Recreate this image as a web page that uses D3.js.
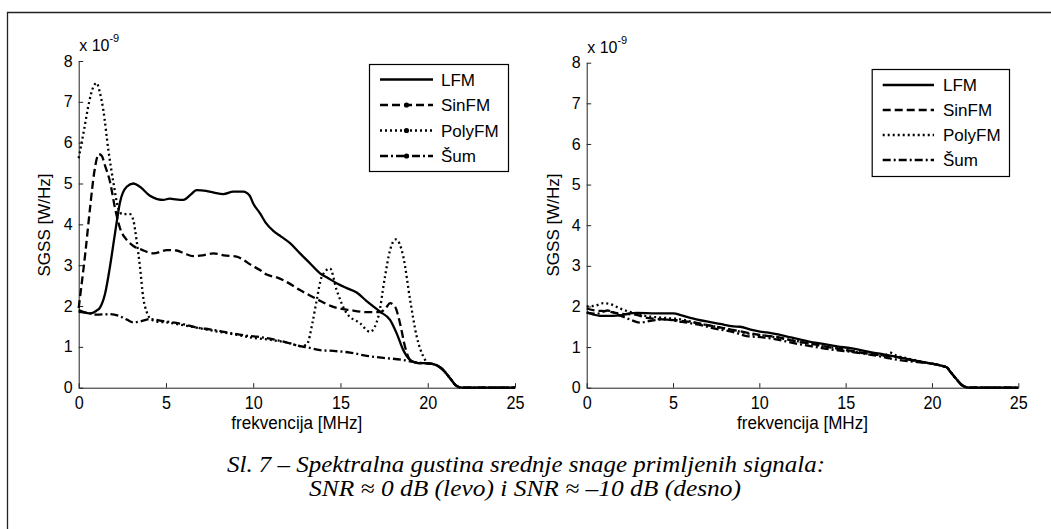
<!DOCTYPE html>
<html>
<head>
<meta charset="utf-8">
<script src="https://cdn.jsdelivr.net/npm/d3@7"></script>
<style>
body { margin: 0; background: #fff; }
svg { display: block; }
svg text { font-family: "Liberation Sans", Arial, sans-serif; }
svg text.caption { font-family: "Liberation Serif", "Times New Roman", Times, serif; font-style: italic; }
</style>
</head>
<body>
<div id="chart"></div>
<script>
// ---- data (values in units of 1e-9 W/Hz, frequency in MHz) ----
var xTicks = [0, 5, 10, 15, 20, 25];
var yTicks = [0, 1, 2, 3, 4, 5, 6, 7, 8];
var seriesNames = ["LFM", "SinFM", "PolyFM", "Šum"];

// left panel, SNR ~ 0 dB
var leftLfmF = [0, 0.3, 0.65, 1.0, 1.22, 1.51, 1.79, 2.08, 2.37, 2.75, 3.13, 3.51, 4.08, 4.5, 4.85, 5.2, 5.42, 6.0, 6.4, 6.76, 7.3, 7.8, 8.29, 8.86, 9.43, 9.8, 10.0, 10.39, 10.7, 11.15, 11.6, 12.11, 12.68, 13.2, 13.83, 14.3, 14.78, 15.3, 15.93, 16.5, 17.27, 17.84, 18.22, 18.6, 18.99, 19.37, 19.8, 20.32, 20.8, 21.28, 21.6, 21.85, 22.2, 25];
var leftLfmP = [1.9, 1.85, 1.82, 1.88, 1.96, 2.3, 2.96, 3.78, 4.55, 4.92, 5.0, 4.92, 4.7, 4.62, 4.6, 4.63, 4.62, 4.6, 4.72, 4.84, 4.82, 4.77, 4.74, 4.8, 4.8, 4.7, 4.51, 4.27, 4.05, 3.84, 3.7, 3.54, 3.29, 3.07, 2.8, 2.68, 2.56, 2.45, 2.33, 2.12, 1.86, 1.66, 1.33, 0.92, 0.68, 0.61, 0.6, 0.58, 0.47, 0.23, 0.06, 0.01, 0, 0];

var leftSinF = [0, 0.1, 0.38, 0.65, 0.9, 1.15, 1.32, 1.5, 1.79, 2.08, 2.37, 2.75, 3.13, 3.6, 4.28, 4.7, 5.04, 5.61, 6.0, 6.57, 7.1, 7.71, 8.3, 9.05, 9.43, 9.82, 10.39, 10.77, 11.35, 11.73, 12.68, 13.64, 14.59, 15.55, 16.5, 17.27, 17.6, 17.84, 18.13, 18.41, 18.7, 18.99, 19.37, 19.8, 20.32, 20.8, 21.28, 21.6, 21.85, 22.2, 25];
var leftSinP = [1.95, 2.3, 3.3, 4.4, 5.3, 5.72, 5.68, 5.45, 5.05, 4.4, 3.9, 3.62, 3.47, 3.38, 3.29, 3.33, 3.37, 3.36, 3.3, 3.22, 3.24, 3.29, 3.24, 3.21, 3.13, 3.02, 2.88, 2.77, 2.7, 2.63, 2.39, 2.17, 1.98, 1.9, 1.85, 1.85, 1.95, 2.07, 1.98, 1.58, 1.0, 0.68, 0.61, 0.6, 0.58, 0.47, 0.23, 0.06, 0.01, 0, 0];

var leftPolyF = [0, 0.3, 0.6, 0.85, 1.03, 1.2, 1.41, 1.7, 1.98, 2.27, 2.5, 2.94, 3.13, 3.32, 3.51, 3.7, 3.9, 4.08, 4.47, 5.0, 6.0, 7.0, 8.0, 9.0, 10.0, 11.0, 12.0, 12.7, 13.06, 13.4, 13.64, 13.93, 14.4, 14.78, 15.36, 16.12, 16.69, 17.17, 17.55, 17.84, 18.18, 18.6, 18.99, 19.37, 19.75, 20.03, 20.32, 20.8, 21.28, 21.6, 21.85, 22.2, 25];
var leftPolyP = [5.62, 6.3, 7.0, 7.38, 7.46, 7.25, 6.8, 5.82, 5.05, 4.39, 4.25, 4.25, 4.1, 3.6, 2.96, 2.2, 1.85, 1.7, 1.62, 1.6, 1.53, 1.45, 1.37, 1.3, 1.22, 1.17, 1.1, 1.02, 1.05, 1.6, 2.15, 2.72, 2.92, 2.39, 1.82, 1.58, 1.37, 1.74, 2.72, 3.37, 3.63, 3.21, 2.15, 1.25, 0.76, 0.6, 0.58, 0.47, 0.23, 0.06, 0.01, 0, 0];

var leftSumF = [0, 0.5, 1.0, 1.79, 2.3, 2.8, 3.13, 3.5, 4.09, 4.85, 5.8, 6.95, 7.5, 8.67, 9.5, 10.2, 10.96, 11.8, 12.68, 13.06, 13.83, 14.6, 15.55, 16.5, 17.46, 18.6, 19.17, 19.5, 19.8, 20.32, 20.8, 21.28, 21.6, 21.85, 22.2, 25];
var leftSumP = [1.86, 1.83, 1.79, 1.8, 1.76, 1.66, 1.6, 1.62, 1.68, 1.63, 1.57, 1.46, 1.43, 1.34, 1.28, 1.25, 1.2, 1.12, 1.02, 0.99, 0.92, 0.9, 0.86, 0.78, 0.73, 0.68, 0.63, 0.61, 0.6, 0.58, 0.47, 0.23, 0.06, 0.01, 0, 0];

// right panel, SNR ~ -10 dB
var rightLfmF = [0, 0.4, 0.77, 1.5, 1.93, 2.5, 2.9, 4.0, 5.02, 5.5, 6.0, 6.95, 7.72, 8.49, 8.88, 9.5, 10.04, 10.43, 11.5, 12.2, 12.94, 13.5, 14.5, 15.45, 16.5, 17.2, 17.96, 18.9, 19.89, 20.47, 20.86, 21.05, 21.44, 21.75, 22.02, 22.3, 25];
var rightLfmP = [1.86, 1.8, 1.77, 1.77, 1.78, 1.83, 1.84, 1.83, 1.83, 1.78, 1.72, 1.63, 1.57, 1.51, 1.5, 1.43, 1.38, 1.36, 1.27, 1.2, 1.13, 1.09, 1.02, 0.96, 0.87, 0.82, 0.76, 0.68, 0.6, 0.55, 0.5, 0.4, 0.2, 0.06, 0.01, 0, 0];

var rightSinF = [0, 0.5, 1.2, 2.0, 2.8, 3.5, 4.5, 5.2, 6.0, 7.0, 8.0, 9.0, 10.0, 11.0, 12.0, 13.0, 14.0, 15.0, 16.0, 17.0, 18.0, 19.0, 19.89, 20.47, 20.86, 21.05, 21.44, 21.75, 22.02, 22.3, 25];
var rightSinP = [1.95, 1.9, 1.88, 1.82, 1.8, 1.72, 1.68, 1.66, 1.62, 1.54, 1.46, 1.38, 1.3, 1.25, 1.15, 1.08, 1.0, 0.93, 0.86, 0.8, 0.75, 0.66, 0.6, 0.55, 0.5, 0.4, 0.2, 0.06, 0.01, 0, 0];

var rightPolyF = [0, 0.5, 0.96, 1.35, 1.93, 2.7, 3.5, 4.5, 5.5, 6.5, 7.5, 8.5, 9.5, 10.5, 11.5, 12.5, 13.5, 14.5, 15.5, 16.5, 17.3, 17.6, 17.9, 18.8, 19.5, 19.89, 20.47, 20.86, 21.05, 21.44, 21.75, 22.02, 22.3, 25];
var rightPolyP = [2.0, 2.02, 2.08, 2.06, 1.95, 1.84, 1.76, 1.72, 1.68, 1.58, 1.5, 1.42, 1.32, 1.27, 1.2, 1.12, 1.03, 0.97, 0.88, 0.83, 0.8, 0.86, 0.8, 0.7, 0.63, 0.6, 0.55, 0.5, 0.4, 0.2, 0.06, 0.01, 0, 0];

var rightSumF = [0, 0.6, 1.2, 1.8, 2.5, 3.09, 3.6, 4.44, 5.5, 6.5, 7.5, 8.5, 9.27, 10.2, 11.2, 12.2, 13.13, 14.0, 15.0, 16.0, 17.0, 17.57, 18.92, 19.89, 20.47, 20.86, 21.05, 21.44, 21.75, 22.02, 22.3, 25];
var rightSumP = [1.84, 1.82, 1.9, 1.8, 1.68, 1.6, 1.64, 1.68, 1.62, 1.55, 1.45, 1.37, 1.27, 1.24, 1.17, 1.08, 1.01, 0.95, 0.9, 0.84, 0.77, 0.72, 0.64, 0.6, 0.55, 0.5, 0.4, 0.2, 0.06, 0.01, 0, 0];

// ---- drawing ----
var W = 1051, H = 529;

var svg = d3.select("#chart").append("svg")
    .attr("width", W)
    .attr("height", H);

// page frame (top and left edge)
svg.append("path")
    .attr("d", "M7.5,529V12.5H1051")
    .attr("fill", "none")
    .attr("stroke", "#222")
    .attr("stroke-width", 1.3);

var dashes = [null, "8,4", "2,3", "8,3,2,3"];

function panel(opt) {
  var x = d3.scaleLinear().domain([0, 25]).range([opt.left, opt.right]);
  var y = d3.scaleLinear().domain([0, 8]).range([opt.bottom, opt.top]);
  var g = svg.append("g");

  var gx = g.append("g")
      .attr("transform", "translate(0," + opt.bottom + ")")
      .call(d3.axisBottom(x).tickValues(xTicks).tickSizeInner(-4.5).tickSizeOuter(0).tickPadding(8));
  var gy = g.append("g")
      .attr("transform", "translate(" + opt.left + ",0)")
      .call(d3.axisLeft(y).tickValues(yTicks).tickSizeInner(-4.5).tickSizeOuter(0).tickPadding(6));

  [gx, gy].forEach(function(a) {
    a.attr("font-family", null).attr("font-size", 16);
    a.selectAll("path, line").attr("stroke", "#222").attr("stroke-width", 1);
    a.selectAll("text").attr("fill", "#000");
  });
  // x tick labels look a bit condensed in the original
  gx.selectAll("text")
      .style("font-size", "19px")
      .attr("textLength", function(d) { return String(d).length * 9; })
      .attr("lengthAdjust", "spacingAndGlyphs");

  // "x 10^-9"
  var ex = g.append("text")
      .attr("x", opt.left + 0.5)
      .attr("y", opt.top - 10)
      .style("font-size", "16px")
      .text("x 10");
  ex.append("tspan")
      .attr("dy", -9)
      .style("font-size", "11px")
      .text("-9");

  // axis titles
  g.append("text")
      .attr("transform", "translate(" + opt.ylabX + ",225) rotate(-90)")
      .attr("text-anchor", "middle")
      .style("font-size", "17px")
      .text("SGSS [W/Hz]");

  g.append("text")
      .attr("x", (opt.left + opt.right) / 2)
      .attr("y", 429)
      .attr("text-anchor", "middle")
      .style("font-size", "18px")
      .attr("textLength", 131)
      .attr("lengthAdjust", "spacingAndGlyphs")
      .text("frekvencija [MHz]");

  var line = d3.line()
      .x(function(d) { return x(d[0]); })
      .y(function(d) { return y(d[1]); })
      .curve(d3.curveMonotoneX);

  opt.series.forEach(function(s, i) {
    g.append("path")
        .datum(d3.zip(s[0], s[1]))
        .attr("d", line)
        .attr("fill", "none")
        .attr("stroke", "#000")
        .attr("stroke-width", 2.3)
        .attr("stroke-dasharray", dashes[i]);
  });

  // legend
  var L = opt.legend;
  g.append("rect")
      .attr("x", L.x0 + 0.5).attr("y", L.y0 + 0.5)
      .attr("width", L.x1 - L.x0).attr("height", L.y1 - L.y0)
      .attr("fill", "#fff").attr("stroke", "#000").attr("stroke-width", 1.2);

  seriesNames.forEach(function(name, i) {
    var ly = L.firstY + i * L.step;
    g.append("line")
        .attr("x1", L.lineX0).attr("x2", L.lineX1)
        .attr("y1", ly).attr("y2", ly)
        .attr("stroke", "#000").attr("stroke-width", 2.4)
        .attr("stroke-dasharray", dashes[i]);
    if (L.markers && i > 0) {
      g.append("circle")
          .attr("cx", (L.lineX0 + L.lineX1) / 2).attr("cy", ly)
          .attr("r", 2.6).attr("fill", "#000");
    }
    g.append("text")
        .attr("x", L.textX).attr("y", ly + 6)
        .style("font-size", "17px")
        .text(name);
  });
}

panel({
  left: 78.7, right: 515, top: 61, bottom: 387.7, ylabX: 50,
  series: [[leftLfmF, leftLfmP], [leftSinF, leftSinP], [leftPolyF, leftPolyP], [leftSumF, leftSumP]],
  legend: {x0: 369, y0: 64, x1: 508, y1: 171, lineX0: 380, lineX1: 433, textX: 441, firstY: 79.5, step: 25.5, markers: true}
});

panel({
  left: 586.7, right: 1018.3, top: 62.7, bottom: 387.7, ylabX: 559,
  series: [[rightLfmF, rightLfmP], [rightSinF, rightSinP], [rightPolyF, rightPolyP], [rightSumF, rightSumP]],
  legend: {x0: 871.7, y0: 69, x1: 1009, y1: 176, lineX0: 882.7, lineX1: 934, textX: 943, firstY: 85, step: 25, markers: false}
});

// caption
svg.append("text")
    .attr("class", "caption")
    .attr("x", 526).attr("y", 472)
    .attr("text-anchor", "middle")
    .style("font-size", "23px")
    .attr("textLength", 598).attr("lengthAdjust", "spacingAndGlyphs")
    .text("Sl. 7 – Spektralna gustina srednje snage primljenih signala:");

svg.append("text")
    .attr("class", "caption")
    .attr("x", 525).attr("y", 496)
    .attr("text-anchor", "middle")
    .style("font-size", "23px")
    .attr("textLength", 432).attr("lengthAdjust", "spacingAndGlyphs")
    .text("SNR ≈ 0 dB (levo) i SNR ≈ –10 dB (desno)");
</script>
</body>
</html>
